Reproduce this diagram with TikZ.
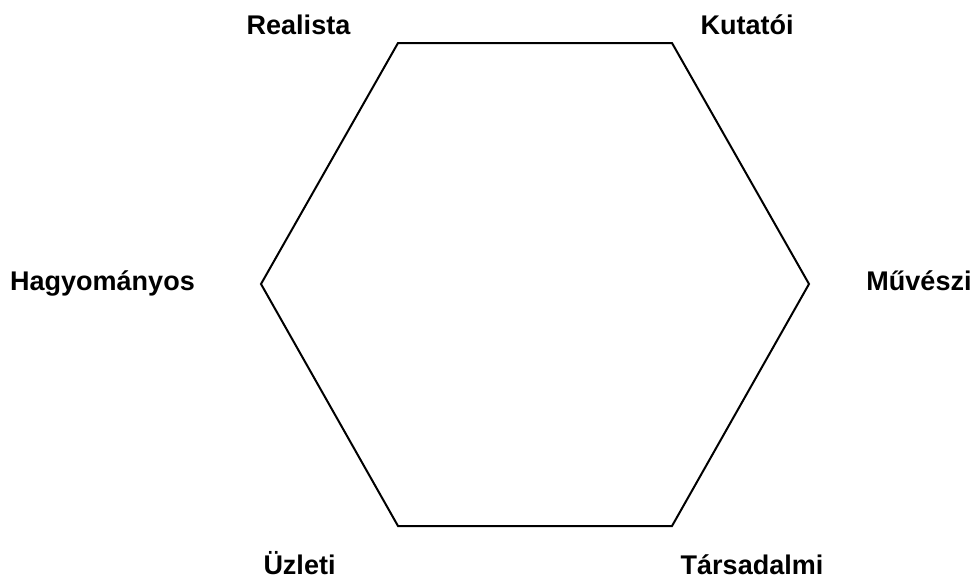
\documentclass[tikz,border=0pt]{standalone}
\usepackage{fontspec}
\setmainfont{Liberation Sans}
\usepackage{tikz}
\usetikzlibrary{calc,positioning}

\tikzset{
  label/.style={font=\fontsize{27}{30}\selectfont\bfseries, anchor=base, inner sep=0pt},
  side/.style={line width=2pt, line join=miter}
}

\begin{document}
\begin{tikzpicture}[x=1pt, y=-1pt]

    \useasboundingbox (0,0) rectangle (976,581);

    % Csucsok
    \coordinate (tl) at (398,43);
    \coordinate (tr) at (672,43);
    \coordinate (r)  at (809,284);
    \coordinate (br) at (672,526);
    \coordinate (bl) at (398,526);
    \coordinate (l)  at (261,284);

    % Hatszog
    \draw[side] (tl) -- (tr) -- (r) -- (br) -- (bl) -- (l) -- cycle;

    % Feliratok
    \node[label] (realista)    at (298.5,34)  {Realista};
    \node[label] (kutatoi)     at (747,34)    {Kutatói};
    \node[label] (hagyomanyos) at (102.5,290) {Hagyományos};
    \node[label] (muveszi)     at (919,290)   {Művészi};
    \node[label] (uzleti)      at (299.5,574) {Üzleti};
    \node[label] (tarsadalmi)  at (752,574)   {Társadalmi};

\end{tikzpicture}
\end{document}
